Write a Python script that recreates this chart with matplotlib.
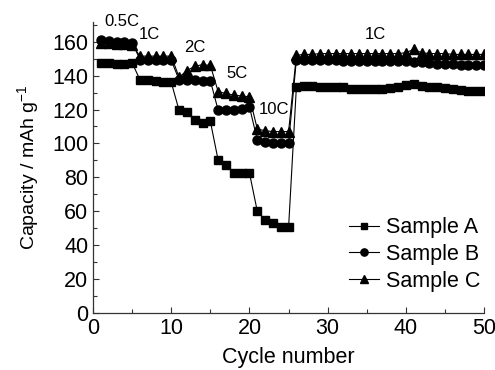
import matplotlib
matplotlib.use('Agg')

import matplotlib.pyplot as plt
from matplotlib.ticker import MultipleLocator

plt.rcParams['font.family'] = ['Liberation Sans', 'DejaVu Sans']
plt.rcParams['mathtext.default'] = 'regular'

# cycle numbers 1..50
cycles = list(range(1, 51))

sample_a = [147.5, 147.5, 147, 147, 147.5,
            137.5, 137.5, 137, 136.5, 136,
            119.5, 118.5, 114, 112, 113,
            90, 87, 82.5, 82.5, 82.5,
            60, 55, 53, 51, 50.5,
            133.5, 134, 134, 133.5, 133.5, 133, 133, 132, 132, 132,
            132, 132, 132.5, 133.5, 134.5, 135, 134, 133.5, 133, 132.5,
            132, 131.5, 131, 131, 131]

sample_b = [161, 160.5, 160, 160, 159.5,
            149.5, 149.5, 149.5, 149, 149,
            137.5, 137.5, 137.5, 137, 137,
            119.5, 119.5, 120, 120.5, 121.5,
            102, 101, 100.5, 100.5, 100.5,
            149.5, 149, 149, 149, 149, 149, 148.5, 148.5, 148.5, 148.5,
            148.5, 148.5, 148.5, 148.5, 148.5, 148, 148, 147.5, 147, 147,
            147, 146.5, 146.5, 146.5, 146.5]

sample_c = [159.5, 159, 158.5, 158.5, 158,
            151.5, 151.5, 151.5, 151.5, 151.5,
            139, 143, 145.5, 146.5, 146,
            130.5, 129.5, 128.5, 128, 127.5,
            108.5, 107.5, 107, 107, 107,
            152, 152.5, 152.5, 153, 153, 153, 153, 153, 153, 153,
            153, 153, 153, 153, 153.5, 155.5, 153.5, 153, 153, 153,
            152.5, 152.5, 152.5, 152.5, 152.5]

rate_labels = ['0.5C', '1C', '2C', '5C', '10C', '1C']
rate_x = [3.7, 7.2, 13.0, 18.35, 23.1, 36.1]
rate_y = [172, 164.5, 156.5, 141, 120.3, 164.5]

fig = plt.figure(figsize=(4.95, 3.7), dpi=100)
ax = fig.add_axes([0.188, 0.154, 0.790, 0.786])

ax.plot(cycles, sample_a, '-s', color='black', lw=0.8, ms=6, label='Sample A')
ax.plot(cycles, sample_b, '-o', color='black', lw=0.8, ms=6.5, label='Sample B')
ax.plot(cycles, sample_c, '-^', color='black', lw=0.8, ms=7, label='Sample C')

for t, x, y in zip(rate_labels, rate_x, rate_y):
    ax.text(x, y, t, fontsize=12, ha='center', va='center', clip_on=False)

ax.set_xlim(0, 50)
ax.set_ylim(0, 171.5)
ax.xaxis.set_major_locator(MultipleLocator(10))
ax.xaxis.set_minor_locator(MultipleLocator(5))
ax.yaxis.set_major_locator(MultipleLocator(20))
ax.yaxis.set_minor_locator(MultipleLocator(10))
ax.tick_params(which='both', direction='in', labelsize=15.5, width=0.8, color='#333333')
ax.tick_params(which='major', length=4)
ax.tick_params(which='minor', length=3)
ax.spines['top'].set_visible(False)
ax.spines['right'].set_visible(False)
for s in ['left', 'bottom']:
    ax.spines[s].set_linewidth(0.9)
    ax.spines[s].set_color('#333333')

ax.set_xlabel('Cycle number', fontsize=15.5, labelpad=6)
ax.set_ylabel('Capacity / mAh g$^{-1}$', fontsize=14, labelpad=8)

ax.legend(loc='upper left', bbox_to_anchor=(0.655, 0.33), frameon=False,
          fontsize=15.5, handlelength=1.4, handletextpad=0.3,
          labelspacing=0.27, borderpad=0, borderaxespad=0, markerscale=0.8)

fig.savefig('out.png', dpi=100)
